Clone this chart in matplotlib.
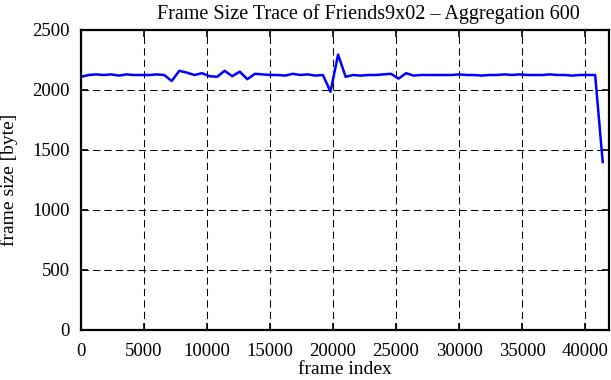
import matplotlib
matplotlib.use("Agg")
import matplotlib.pyplot as plt
import numpy as np

frames = [i * 600 for i in range(70)]
sizes = [2110, 2125, 2130, 2125, 2130, 2120, 2130, 2125, 2125, 2125,
         2130, 2125, 2075, 2160, 2145, 2125, 2140, 2115, 2110, 2160,
         2115, 2153, 2090, 2135, 2130, 2125, 2125, 2120, 2135, 2125,
         2130, 2120, 2125, 1985, 2295, 2110, 2125, 2120, 2125, 2125,
         2130, 2135, 2095, 2140, 2120, 2125, 2125, 2125, 2125, 2125,
         2130, 2125, 2125, 2120, 2125, 2125, 2130, 2125, 2130, 2125,
         2125, 2125, 2130, 2125, 2125, 2120, 2125, 2125, 2125, 1400]
xticks = [0, 5000, 10000, 15000, 20000, 25000, 30000, 35000, 40000]
yticks = [0, 500, 1000, 1500, 2000, 2500]

plt.rcParams['font.family'] = ['Liberation Serif', 'DejaVu Serif']
fig = plt.figure(figsize=(6.11, 3.80), dpi=100)
ax = fig.add_axes([81/611, 50/380, 528/611, 300/380])
ax.plot(frames, sizes, color='#0000ff', lw=1.8)
ax.set_xlim(0, 41900)
ax.set_ylim(0, 2500)
ax.set_xticks(xticks)
ax.set_yticks(yticks)
ax.grid(True, color='black', linestyle=(0, (7, 4)), lw=0.75)
ax.tick_params(direction='in', length=5, width=1.2, top=True, right=True, labelsize=13.5)
ax.tick_params(axis='y', pad=8)
ax.tick_params(axis='x', pad=9)
for s in ax.spines.values():
    s.set_linewidth(1.6)
ax.set_xlabel('frame index', fontsize=14, labelpad=1)
ax.set_ylabel('frame size [byte]', fontsize=14, labelpad=10)
ax.set_title('Frame Size Trace of Friends9x02 \u2013 Aggregation 600', fontsize=14.5, pad=8, x=0.545)
fig.savefig('out.png', dpi=100)
